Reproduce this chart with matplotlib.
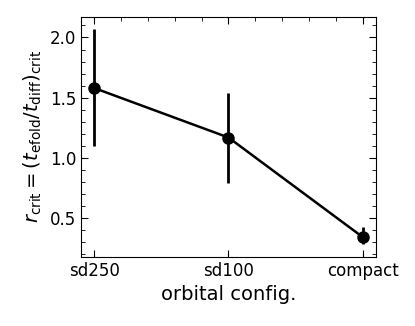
import matplotlib.pyplot as plt
from matplotlib.ticker import MultipleLocator

configs = ['sd250', 'sd100', 'compact']
r_crit = [1.58, 1.17, 0.345]
err_low = [0.48, 0.38, 0.055]
err_high = [0.49, 0.37, 0.08]

x = list(range(len(configs)))

fig = plt.figure(figsize=(4.15, 3.26), dpi=100)
ax = fig.add_axes([0.195, 0.212, 0.711, 0.736])

ax.errorbar(x, r_crit, yerr=[err_low, err_high], color='k', marker='o',
            markersize=8, linewidth=1.8, elinewidth=2)

ax.set_xlim(-0.1, 2.1)
ax.set_ylim(0.18, 2.17)
ax.set_xticks(x)
ax.set_xticklabels(configs)
ax.xaxis.set_minor_locator(MultipleLocator(0.2))
ax.yaxis.set_major_locator(MultipleLocator(0.5))
ax.yaxis.set_minor_locator(MultipleLocator(0.1))
ax.tick_params(which='both', direction='in', top=True, right=True, labelsize=12)
ax.tick_params(axis='x', which='minor', bottom=False)
ax.tick_params(which='major', length=5)
ax.tick_params(which='minor', length=3)

ax.set_xlabel('orbital config.', fontsize=14)
ax.set_ylabel(r'$r_{\rm crit} = (t_{\rm efold}/t_{\rm diff})_{\rm crit}$', fontsize=14)

fig.savefig('out.png', dpi=100)
